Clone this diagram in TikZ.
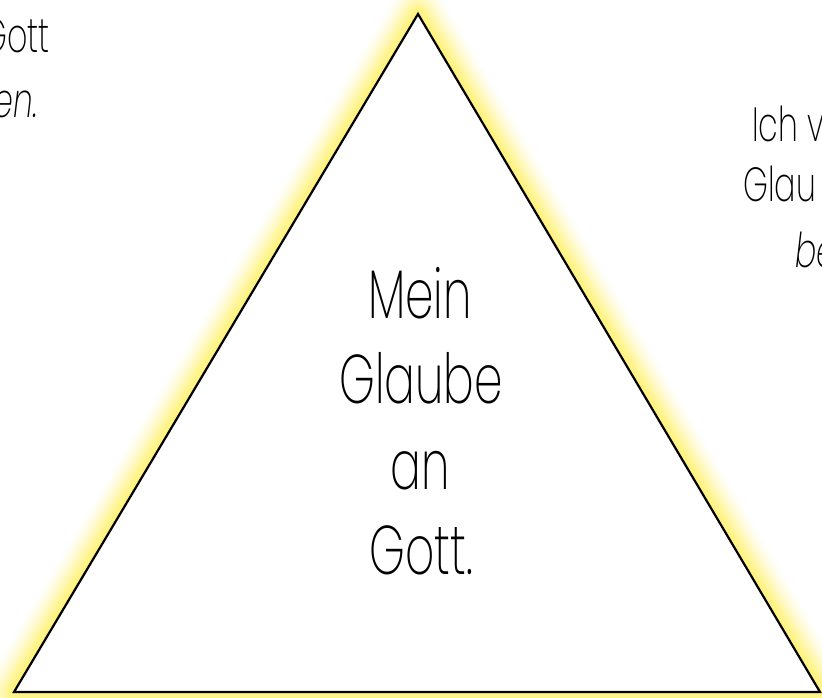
\documentclass[tikz,border=0pt]{standalone}
\usepackage{fontspec}
\setmainfont{Poppins}[UprightFont=* ExtraLight, ItalicFont=* ExtraLight Italic, FakeStretch=0.66]
\begin{document}
\begin{tikzpicture}[x=1pt,y=1pt,
  bigtext/.style={inner sep=0pt, font=\fontsize{69}{69}\selectfont},
  smalltext/.style={inner sep=0pt, font=\fontsize{48}{48}\selectfont},
  glowline/.style={line join=round}]
\definecolor{glowcol}{RGB}{255,242,120}
\useasboundingbox (0,0) rectangle (822,698);
\fill[white] (0,0) rectangle (822,698);
\coordinate (A) at (418,684);
\coordinate (B) at (14,6);
\coordinate (C) at (820,6);
% glow: opaque bands from wide/light to narrow/strong
\foreach \r/\p in {28/5,26/9,24/14,22/20,20/27,18/35,16/43,14/52,12/61,10/70,8/78,6/86,4/93,2/98}{
  \draw[glowline, draw=glowcol!\p!white, line width=2*\r pt] (A) -- (B) -- (C) -- cycle;
}
\fill[white] (A) -- (B) -- (C) -- cycle;
\draw[black, line width=2.2pt, line join=miter] (A) -- (B) -- (C) -- cycle;
% main text
\node[bigtext, anchor=base] (t1) at (420,379) {Mein};
\node[bigtext, anchor=base] (t2) at (421,294) {Glaube};
\node[bigtext, anchor=base] (t3) at (420,208) {an};
\node[bigtext, anchor=base] (t4) at (421,123) {Gott.};
% side texts
\node[smalltext, anchor=base east] (l1) at (50,645) {Gott};
\node[smalltext, anchor=base east] (l2) at (38,580) {\itshape en.};
\node[smalltext, anchor=base west] (r1) at (752,556) {Ich v};
\node[smalltext, anchor=base west] (r2) at (743,496) {Glau};
\node[smalltext, anchor=base west] (r3) at (795,430) {\itshape be};
\end{tikzpicture}
\end{document}
